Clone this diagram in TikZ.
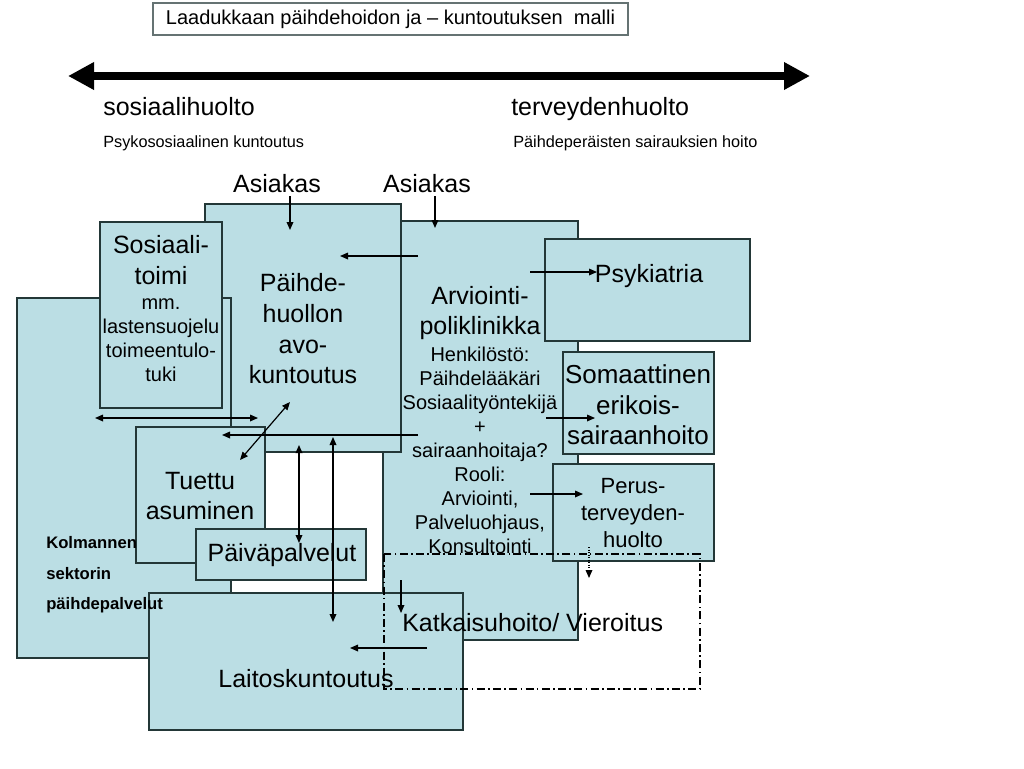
\documentclass[tikz,border=0pt]{standalone}
\usepackage{fontspec}
\setmainfont{Liberation Sans}
\usetikzlibrary{arrows.meta}
\definecolor{boxfill}{RGB}{187,222,228}
\definecolor{boxline}{RGB}{35,55,55}
\tikzset{
  box/.style={draw=boxline, line width=0.9pt, fill=boxfill},
  arr/.style={line width=0.9pt, -{Triangle[length=6pt,width=5pt]}},
  twoarr/.style={line width=0.9pt, {Triangle[length=6pt,width=5pt]}-{Triangle[length=6pt,width=5pt]}},
  bigtxt/.style={inner sep=0.75pt, align=center, font=\fontsize{18.75}{23}\selectfont},
  midtxt/.style={inner sep=0.75pt, align=center, font=\fontsize{15}{18}\selectfont},
}
\begin{document}
\begin{tikzpicture}[x=0.75pt,y=0.75pt,yscale=-1,xscale=1]
        \useasboundingbox (0,0) rectangle (1024,768);
        \fill[white] (0,0) rectangle (1024,768);

        % Title
        \node [draw=boxline!70, line width=0.8pt, minimum width=356.25pt, minimum height=24pt, inner sep=0.75pt, font=\fontsize{15}{18}\selectfont] (title) at (390.5,19) {Laadukkaan päihdehoidon ja – kuntoutuksen~ malli};

        % Axis sosiaalihuolto - terveydenhuolto
        \coordinate (axisL) at (68,76);
        \coordinate (axisR) at (810,76);
        \draw [line width=6pt, {Triangle[length=19.5pt,width=19.5pt]}-{Triangle[length=19.5pt,width=19.5pt]}] (axisL) -- (axisR);
        \node [anchor=base west, inner sep=0.75pt, font=\fontsize{18.75}{23}\selectfont] (sosh) at (102,115) {sosiaalihuolto};
        \node [anchor=base west, inner sep=0.75pt, font=\fontsize{18.75}{23}\selectfont] (terh) at (510,115) {terveydenhuolto};
        \node [anchor=base west, inner sep=0.75pt, font=\fontsize{12.2}{15}\selectfont] (psyko) at (102,147.5) {Psykososiaalinen kuntoutus};
        \node [anchor=base west, inner sep=0.75pt, font=\fontsize{12.2}{15}\selectfont] (sairaus) at (512,147.5) {Päihdeperäisten sairauksien hoito};

        % Boxes, back to front
        \draw [box] (383,221) rectangle (578,640);   % arviointi
        \draw [box] (205,204) rectangle (401,452);   % paihdehuolto
        \draw [box] (17,298) rectangle (231,658);    % kolmas sektori
        \draw [box] (100,222) rectangle (222,408);   % sosiaalitoimi
        \draw [box] (136,427) rectangle (265,563);   % tuettu asuminen
        \draw [box] (196,529) rectangle (366,580);   % paivapalvelut
        \draw [box] (149,593) rectangle (463,730);   % laitoskuntoutus
        \draw [box] (545,239) rectangle (750,341);   % psykiatria
        \draw [box] (563,352) rectangle (714,454);   % somaattinen
        \draw [box] (553,464) rectangle (714,561);   % perusterveydenhuolto

        % Dash dot area
        \draw [line width=0.9pt, dash pattern={on 6pt off 2.5pt on 1.2pt off 2.5pt}] (384,554) rectangle (700,689);

        % Text Node
        \node [bigtxt] (asiakas1) at (277,184) {Asiakas};
        \node [bigtxt] (asiakas2) at (427,184) {Asiakas};
        \node [bigtxt] (sostoimi) at (161,260) {Sosiaali-\\toimi};
        \node [midtxt] (sosteht) at (161,340) {mm.\\lastensuojelu\\toimeentulo-\\tuki};
        \node [bigtxt] (paihde) at (303,329) {Päihde-\\huollon\\avo-\\kuntoutus};
        \node [bigtxt] (arvio) at (480,313) {Arviointi-\\poliklinikka};
        \node [midtxt] (henkilo) at (480,450) {Henkilöstö:\\Päihdelääkäri\\Sosiaalityöntekijä\\+\\sairaanhoitaja?\\Rooli:\\Arviointi,\\Palveluohjaus,\\Konsultointi};
        \node [bigtxt] (psyk) at (649,276) {Psykiatria};
        \node [bigtxt, font=\fontsize{19.5}{23}\selectfont] (somaat) at (638,405) {Somaattinen\\erikois-\\sairaanhoito};
        \node [bigtxt, font=\fontsize{16.5}{20.5}\selectfont] (perus) at (633,513) {Perus-\\terveyden-\\huolto};
        \node [bigtxt] (tuettu) at (200,496) {Tuettu\\asuminen};
        \node [bigtxt] (paiva) at (282,555) {Päiväpalvelut};
        \node [anchor=west, align=left, inner sep=0.75pt, font=\fontsize{12.5}{23}\selectfont\bfseries] (kolmas) at (45,575) {Kolmannen\\sektorin\\päihdepalvelut};
        \node [bigtxt, anchor=west] (katko) at (401,623) {Katkaisuhoito/ Vieroitus};
        \node [bigtxt] (laitos) at (306,679) {Laitoskuntoutus};

        % Arrow ends
        \coordinate (a1s) at (290,196);  \coordinate (a1e) at (290,230);
        \coordinate (a2s) at (435,196);  \coordinate (a2e) at (435,228);
        \coordinate (ap1s) at (418,256); \coordinate (ap1e) at (340,256);
        \coordinate (aps1) at (530,272); \coordinate (aps2) at (597,272);
        \coordinate (st1) at (95,418);   \coordinate (st2) at (258,418);
        \coordinate (ap2s) at (418,435); \coordinate (ap2e) at (222,435);
        \coordinate (dg1) at (290,402);  \coordinate (dg2) at (240,460);
        \coordinate (v1a) at (299,445);  \coordinate (v1b) at (299,543);
        \coordinate (v2a) at (333,437);  \coordinate (v2b) at (333,622);
        \coordinate (as1) at (546,418);  \coordinate (as2) at (595,418);
        \coordinate (ape1) at (530,494); \coordinate (ape2) at (583,494);
        \coordinate (kt1) at (401,580);  \coordinate (kt2) at (401,613);
        \coordinate (kl1) at (427,648);  \coordinate (kl2) at (350,648);
        \coordinate (dt1) at (589,547);  \coordinate (dt2) at (589,578);

        % Arrows
        \draw [arr] (a1s) -- (a1e);
        \draw [arr] (a2s) -- (a2e);
        \draw [arr] (ap1s) -- (ap1e);
        \draw [arr] (aps1) -- (aps2);
        \draw [twoarr] (st1) -- (st2);
        \draw [arr] (ap2s) -- (ap2e);
        \draw [twoarr] (dg1) -- (dg2);
        \draw [twoarr] (v1a) -- (v1b);
        \draw [twoarr] (v2a) -- (v2b);
        \draw [arr] (as1) -- (as2);
        \draw [arr] (ape1) -- (ape2);
        \draw [arr] (kt1) -- (kt2);
        \draw [arr] (kl1) -- (kl2);
        \draw [arr, densely dotted] (dt1) -- (dt2);

\end{tikzpicture}
\end{document}
